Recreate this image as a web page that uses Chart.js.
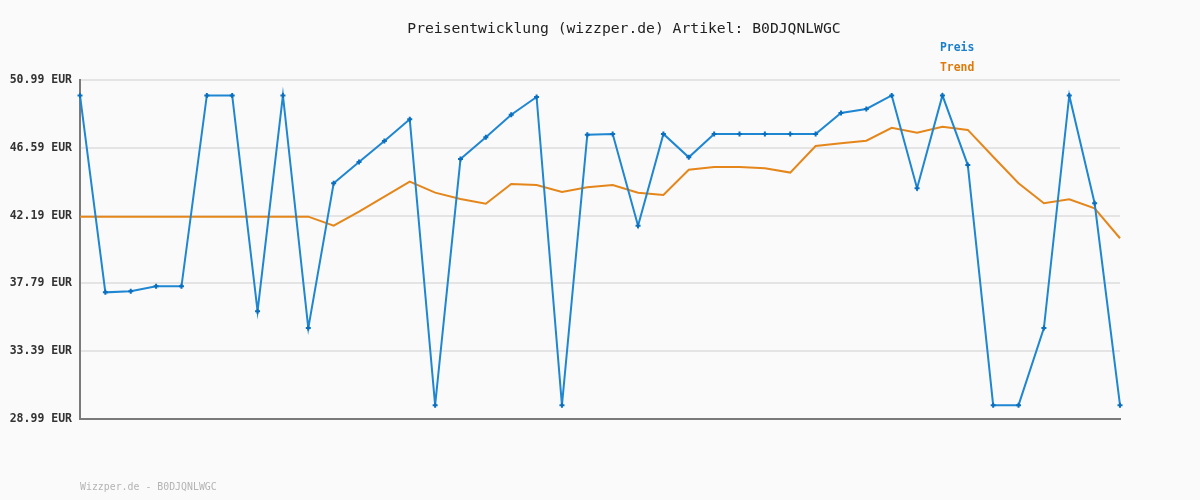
<!DOCTYPE html>
<html lang="de">
<head>
<meta charset="utf-8">
<title>Preisentwicklung B0DJQNLWGC</title>
<script src="https://cdn.jsdelivr.net/npm/chart.js@4.4.1/dist/chart.umd.min.js"></script>
<style>
  html, body { margin: 0; padding: 0; background: #fafafa; }
  .wrap { position: relative; width: 1200px; height: 500px; background: #fafafa; overflow: hidden; }
  canvas { position: absolute; left: 0; top: 0; }
  .titel {
    position: absolute; left: 0; width: 1248px; top: 19px; text-align: center;
    font: 14.7px "DejaVu Sans Mono", monospace; color: #222; white-space: pre;
  }
  .legende { position: absolute; left: 940px; font: bold 11.4px "DejaVu Sans Mono", monospace; }
  .legende--preis { top: 40px; color: #1a7fcc; }
  .legende--trend { top: 60px; color: #dd7a0a; }
  .fuss {
    position: absolute; left: 80px; top: 481px;
    font: 9.9px "DejaVu Sans Mono", monospace; color: #b4b4b4;
  }
</style>
</head>
<body>
<div class="wrap">
  <canvas id="preisChart" width="1200" height="500"></canvas>
  <div class="titel">Preisentwicklung (wizzper.de) Artikel: B0DJQNLWGC</div>
  <div class="legende legende--preis">Preis</div>
  <div class="legende legende--trend">Trend</div>
  <div class="fuss">Wizzper.de - B0DJQNLWGC</div>
</div>
<script>
// Werte (EUR)
const preisWerte = [
  49.99, 37.21, 37.28, 37.60, 37.60, 49.99, 49.99, 35.99, 49.99, 34.89,
  44.29, 45.67, 47.03, 48.44, 29.89, 45.86, 47.27, 48.74, 49.89, 29.89,
  47.44, 47.49, 41.53, 47.49, 45.97, 47.49, 47.49, 47.49, 47.49, 47.49,
  48.85, 49.11, 49.99, 43.96, 49.99, 45.47, 29.89, 29.89, 34.89, 49.99,
  42.99, 29.89
];

const trendWerte = [
  42.12, 42.12, 42.12, 42.12, 42.12, 42.12, 42.12, 42.12, 42.12, 42.12,
  41.54, 42.45, 43.42, 44.39, 43.68, 43.27, 42.96, 44.24, 44.18, 43.72,
  44.03, 44.18, 43.68, 43.53, 45.17, 45.35, 45.35, 45.26, 44.98, 46.71,
  46.88, 47.05, 47.89, 47.57, 47.96, 47.75, 46.01, 44.29, 42.99, 43.25,
  42.66, 40.72
];

const yTicks = [28.99, 33.39, 37.79, 42.19, 46.59, 50.99];

const labels = preisWerte.map((_, i) => String(i + 1));

(function () {
  "use strict";

  const MONO = '"DejaVu Sans Mono", monospace';

  function init() {
    const ctx = document.getElementById("preisChart").getContext("2d");
    new Chart(ctx, {
      type: "line",
      data: {
        labels: labels,
        datasets: [
          {
            label: "Preis",
            data: preisWerte,
            borderColor: "#1f86d2",
            borderWidth: 2,
            tension: 0,
            pointStyle: "cross",
            pointRadius: 2.5,
            pointBorderWidth: 2,
            pointBorderColor: "#0a6fbf",
            pointBackgroundColor: "#0a6fbf",
            pointHoverRadius: 2.5,
            order: 1,
          },
          {
            label: "Trend",
            data: trendWerte,
            borderColor: "#e5861a",
            borderWidth: 2,
            tension: 0,
            pointRadius: 0,
            order: 2,
          },
        ],
      },
      options: {
        responsive: false,
        animation: false,
        layout: { padding: { left: 0, right: 80, top: 80, bottom: 81 } },
        plugins: {
          legend: { display: false },
          title: { display: false },
          tooltip: { enabled: false },
        },
        scales: {
          x: {
            grid: { display: false, drawTicks: false },
            ticks: { display: false },
            border: { display: true, color: "#7a7a7a", width: 2 },
            afterFit: (scale) => {
              scale.height = 0;
            },
          },
          y: {
            min: yTicks[0],
            max: yTicks[yTicks.length - 1],
            afterBuildTicks: (scale) => {
              scale.ticks = yTicks.map((v) => ({ value: v }));
            },
            afterFit: (scale) => {
              scale.width = 80;
            },
            grid: { color: "#e4e4e4", lineWidth: 2, drawTicks: false },
            border: { display: true, color: "#7a7a7a", width: 2 },
            ticks: {
              padding: 8,
              color: "#333",
              font: { family: MONO, size: 11.5, weight: "bold" },
              callback: (v) => Number(v).toFixed(2) + " EUR",
            },
          },
        },
      },
    });
  }

  if (document.readyState === "loading") {
    document.addEventListener("DOMContentLoaded", init);
  } else {
    init();
  }
})();
</script>
</body>
</html>
